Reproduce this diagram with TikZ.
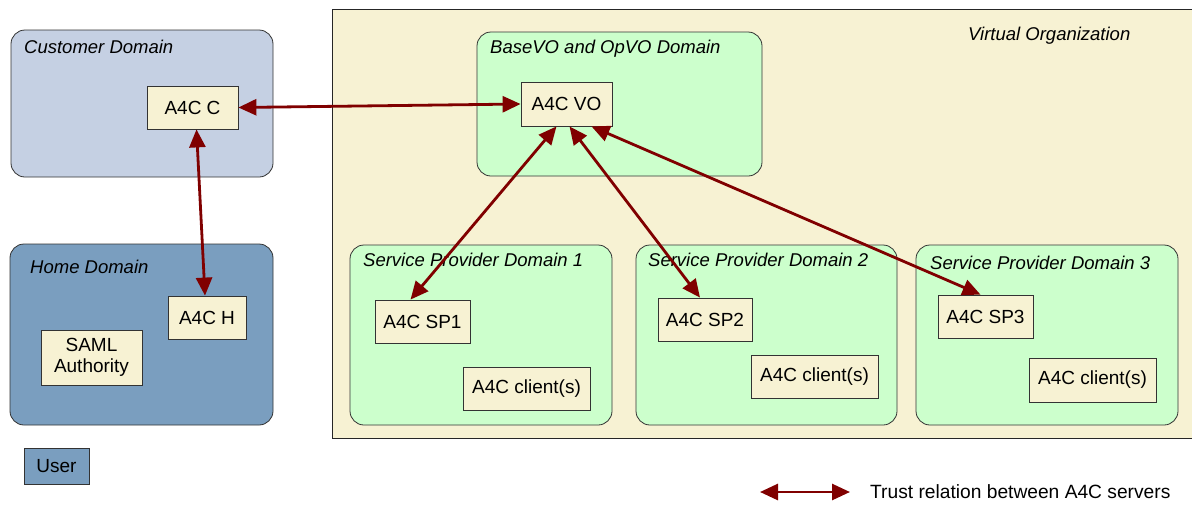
\documentclass[tikz,border=0pt]{standalone}
\usepackage{fontspec}
\setmainfont{Liberation Sans}
\usetikzlibrary{arrows.meta}
\definecolor{voyellow}{HTML}{F7F2D3}
\definecolor{boxy}{HTML}{F7F2D3}
\definecolor{custblue}{HTML}{C5D0E3}
\definecolor{homeblue}{HTML}{7A9EBF}
\definecolor{domgreen}{HTML}{CCFFCC}
\definecolor{trustred}{HTML}{800000}
\tikzset{
  dom/.style={draw=black!80, line width=0.8pt, rounded corners=14pt},
  box/.style={draw=black!80, fill=boxy, line width=0.8pt, inner sep=0pt,
    align=center, font=\fontsize{19}{21.5}\selectfont},
  lab/.style={anchor=base west, inner sep=0pt, font=\itshape\fontsize{18.5}{21}\selectfont},
  trust/.style={draw=trustred, line width=2.8pt,
    {Triangle[length=18pt,width=16pt]}-{Triangle[length=18pt,width=16pt]}},
}
\begin{document}
\begin{tikzpicture}[x=1pt,y=-1pt]
\useasboundingbox (0,0) rectangle (1192,504);

% Virtual organization area
\draw[fill=voyellow, draw=black!85, line width=0.8pt] (332,9) rectangle (1200,438);
\node[lab] (volab) at (968,40) {Virtual Organization};

% domains
\draw[dom, fill=custblue] (11,30) rectangle (273,177);
\node[lab] (custlab) at (24,53) {Customer Domain};
\draw[dom, fill=homeblue] (10,244) rectangle (273,425);
\node[lab] (homelab) at (30,273) {Home Domain};
\draw[dom, fill=domgreen] (477,32) rectangle (762,176);
\node[lab] (vodomlab) at (490,53) {BaseVO and OpVO Domain};
\draw[dom, fill=domgreen] (350,245) rectangle (612,425);
\node[lab] (sp1lab) at (363,266) {Service Provider Domain 1};
\draw[dom, fill=domgreen] (636,245) rectangle (897,425);
\node[lab] (sp2lab) at (648,266) {Service Provider Domain 2};
\draw[dom, fill=domgreen] (916,245) rectangle (1178,425);
\node[lab] (sp3lab) at (930,269) {Service Provider Domain 3};

% servers and components
\node[box, minimum width=91pt, minimum height=43pt] (c) at (192.5,107.5) {A4C C};
\node[box, minimum width=78pt, minimum height=43pt] (h) at (207,317.5) {A4C H};
\node[box, minimum width=101pt, minimum height=55pt] (saml) at (91.5,357.5) {SAML\\Authority};
\node[box, fill=homeblue, minimum width=65pt, minimum height=36pt] (user) at (56.5,466) {User};
\node[box, minimum width=91pt, minimum height=44pt] (vo) at (566.5,104) {A4C VO};
\node[box, minimum width=95pt, minimum height=43pt] (sp1) at (422.5,321.5) {A4C SP1};
\node[box, minimum width=127pt, minimum height=43pt] (cl1) at (526.5,388.5) {A4C client(s)};
\node[box, minimum width=94pt, minimum height=43pt] (sp2) at (705,319.5) {A4C SP2};
\node[box, minimum width=127pt, minimum height=43pt] (cl2) at (814.5,376.5) {A4C client(s)};
\node[box, minimum width=95pt, minimum height=43pt] (sp3) at (985.5,316.5) {A4C SP3};
\node[box, minimum width=127pt, minimum height=44pt] (cl3) at (1092.5,380) {A4C client(s)};

% trust relations
\draw[trust] (c.east) -- (vo.west);
\draw[trust] ([xshift=4pt]c.south) -- ([xshift=-2pt]h.north);
\draw[trust] ([xshift=-10pt]vo.south) -- ([xshift=-12pt]sp1.north);
\draw[trust] ([xshift=3pt]vo.south) -- ([xshift=-5pt]sp2.north);
\draw[trust] ([xshift=25pt]vo.south) -- ([xshift=-5pt]sp3.north);

% legend
\coordinate (lga) at (760,492);
\coordinate (lgb) at (850,492);
\draw[trust] (lga) -- (lgb);
\node[anchor=west, inner sep=0pt, font=\fontsize{19.2}{21.5}\selectfont] (lgtext) at (870,492) {Trust relation between A4C servers};
\end{tikzpicture}
\end{document}
